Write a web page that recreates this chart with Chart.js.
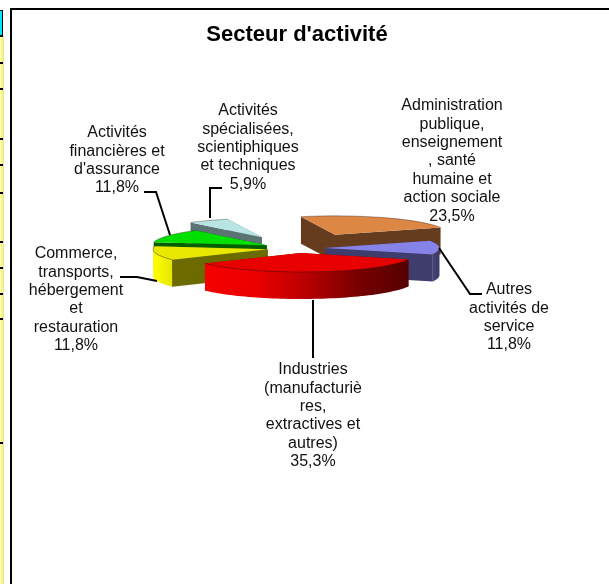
<!DOCTYPE html>
<html><head><meta charset="utf-8">
<style>
html,body{margin:0;padding:0;background:#fff;width:609px;height:584px;overflow:hidden}
#wrap{position:absolute;left:0;top:0;width:609px;height:584px}
canvas{position:absolute;left:0;top:0}
.b{position:absolute}
</style>
<script src="https://cdn.jsdelivr.net/npm/chart.js@4"></script>
</head><body>
<div id="wrap"><canvas id="c" width="609" height="584"></canvas></div>
<script>
const chartTitle = "Secteur d'activité";
const categories = [
  ["Administration","publique,","enseignement",", santé","humaine et","action sociale"],
  ["Autres","activités de","service"],
  ["Industries","(manufacturiè","res,","extractives et","autres)"],
  ["Commerce,","transports,","hébergement","et","restauration"],
  ["Activités","financières et","d'assurance"],
  ["Activités","spécialisées,","scientiphiques","et techniques"]
];
const values = [23.5, 11.8, 35.3, 11.8, 11.8, 5.9];
const topColors  = ["#DC8743","#8583E8","#E80000","#E8E800","#00E000","#B8E4E4"];
const cutColors  = ["#663C1E","#3E3D6B","#800000","#6B6B00","#006000","#5B7373"];
const rimStops   = [
  ["#663C1E","#663C1E"],
  ["#45447A","#3A3965"],
  ["#F40000","#EC0000","#B80000","#780000","#550000"],
  ["#FFFF00","#E6E600"],
  ["#006000","#006000"],
  ["#5B7373","#5B7373"]
];
const explode = [90, 28, 30, 30, 35, 75];
const drawOrder = [0, 5, 4, 1, 3, 2];
const tilt = 0.165, depth = 27;

const labelLayout = [
  {x:452, y:105},
  {x:509, y:289},
  {x:313, y:369},
  {x:76,  y:253},
  {x:117, y:132},
  {x:248, y:110}
];
const leaders = [
  null,
  [[439,248],[470,294],[482,294]],
  [[313,300],[313,358]],
  [[120,277],[137,277],[157,281]],
  [[170,235],[156,192],[144,192]],
  [[210,218],[210,188],[222,188]]
];
const LH = 18.35;

const pie3d = {
  id:'pie3d',
  beforeDatasetsDraw(chart){
    const ctx = chart.ctx, arcs = chart.getDatasetMeta(0).data;
    for (const i of drawOrder){
      const arc = arcs[i];
      const {x:cx, y:cy, startAngle:a0, endAngle:a1, outerRadius:R} = arc;
      const mid = (a0+a1)/2;
      const ax = cx + Math.cos(mid)*explode[i];
      const ay = cy + Math.sin(mid)*explode[i]*tilt;
      const P = (a,z)=>[ax+R*Math.cos(a), ay+tilt*R*Math.sin(a)+z];
      // cut faces
      for (const a of [a0,a1]){
        const p=P(a,0), q=P(a,depth);
        ctx.beginPath();
        ctx.moveTo(ax,ay); ctx.lineTo(p[0],p[1]); ctx.lineTo(q[0],q[1]); ctx.lineTo(ax,ay+depth);
        ctx.closePath();
        ctx.fillStyle = cutColors[i]; ctx.fill();
      }
      // rim wall (front half only)
      const base=2*Math.PI*Math.floor((a0+Math.PI)/(2*Math.PI));
      const s=Math.max(a0,base), e=Math.min(a1,base+Math.PI);
      if (e>s){
        const xs=[];
        const N=60;
        ctx.beginPath();
        for(let n=0;n<=N;n++){const t=s+(e-s)*n/N;const p=P(t,0);ctx.lineTo(p[0],p[1]);xs.push(p[0]);}
        for(let n=N;n>=0;n--){const t=s+(e-s)*n/N;const p=P(t,depth);ctx.lineTo(p[0],p[1]);}
        ctx.closePath();
        const minX=Math.min(...xs),maxX=Math.max(...xs);
        const g=ctx.createLinearGradient(minX,0,maxX,0);
        const st=rimStops[i];
        st.forEach((c,j)=>g.addColorStop(j/(st.length-1),c));
        ctx.fillStyle=g; ctx.fill();
      }
      // top face through the library's own arc element
      ctx.save();
      ctx.translate(ax,ay); ctx.scale(1,tilt); ctx.translate(-cx,-cy);
      arc.draw(ctx);
      ctx.restore();
      // thin edge along the top rim
      ctx.beginPath();
      for(let n=0;n<=60;n++){const t=a0+(a1-a0)*n/60;const p=P(t,0);ctx.lineTo(p[0],p[1]);}
      ctx.strokeStyle='rgba(40,20,20,0.45)';ctx.lineWidth=0.8;ctx.stroke();
    }
    return false;
  },
  afterDraw(chart){
    const ctx=chart.ctx;
    ctx.save();
    ctx.strokeStyle='#000';ctx.lineWidth=2;ctx.lineJoin='miter';
    leaders.forEach(l=>{ if(!l) return;
      ctx.beginPath();l.forEach((p,j)=>j?ctx.lineTo(p[0],p[1]):ctx.moveTo(p[0],p[1]));ctx.stroke();});
    ctx.fillStyle='#111';ctx.textAlign='center';ctx.textBaseline='middle';
    ctx.font='16px "Liberation Sans", Arial, sans-serif';
    categories.forEach((lines,i)=>{
      const all=[...lines, values[i].toFixed(1).replace('.',',')+'%'];
      all.forEach((t,j)=>ctx.fillText(t,labelLayout[i].x,labelLayout[i].y+1+j*LH));
    });
    ctx.restore();
  }
};

new Chart(document.getElementById('c'),{
  type:'pie',
  data:{labels:categories.map(c=>c.join(' ')),
    datasets:[{data:values,backgroundColor:topColors,borderWidth:0,radius:114.5}]},
  options:{
    responsive:false,animation:false,rotation:-17.3,
    layout:{padding:{left:0,right:15,top:0,bottom:136}},
    plugins:{
      legend:{display:false},tooltip:{enabled:false},
      title:{display:true,text:chartTitle,color:'#000',
        font:{family:'"Liberation Sans", Arial, sans-serif',size:22,weight:'bold'},
        padding:{top:22,bottom:0}}
    }
  },
  plugins:[pie3d]
});

// worksheet remnants and the chart frame
function box(l,t,w,h,c){const d=document.createElement('div');d.className='b';
  d.style.cssText=`left:${l}px;top:${t}px;width:${w}px;height:${h}px;background:${c}`;
  document.getElementById('wrap').appendChild(d);}
box(10,8,599,2,'#000');box(10,8,2,576,'#000');
box(0,10,3,1,'#000');box(0,11,2,24,'#00E5FF');box(2,11,1,24,'#000');
box(1,36,2,548,'#FFFF40');box(3,36,1,548,'#ddd');
[35,62,88,138,164,192,241,267,293,318,442].forEach(y=>box(0,y,3,2,'#000'));
</script>
</body></html>
